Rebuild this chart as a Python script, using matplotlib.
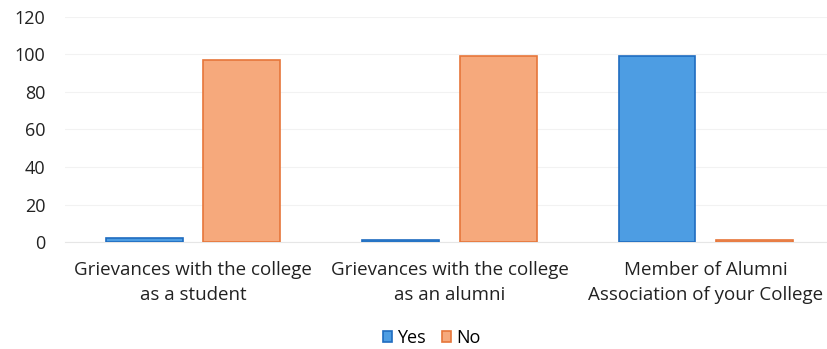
import numpy as np
import matplotlib.pyplot as plt

categories = ["Grievances with the college\nas a student",
              "Grievances with the college\nas an alumni",
              "Member of Alumni\nAssociation of your College"]
yes_vals = [2, 1, 99]
no_vals = [97, 99, 1]
y_ticks = [0, 20, 40, 60, 80, 100, 120]

plt.rcParams['font.family'] = ['Open Sans', 'DejaVu Sans']

fig = plt.figure(figsize=(8.28, 3.49), dpi=100)
ax = fig.add_axes([65 / 828, 107 / 349, (828 - 65) / 828, 225 / 349])

x = np.arange(len(categories))
w = 0.30
off = 0.19
ax.bar(x - off, yes_vals, w, color='#4d9de3', edgecolor='#1f6cc0', linewidth=1.2, label='Yes', zorder=3)
ax.bar(x + off, no_vals, w, color='#f6a97c', edgecolor='#e6763a', linewidth=1.2, label='No', zorder=3)

ax.set_xlim(-0.5, 2.477)
ax.set_ylim(0, 120)
ax.set_yticks(y_ticks)
ax.set_yticklabels([str(t) for t in y_ticks], fontsize=13, color='#222222')
ax.set_xticks(x)
ax.set_xticklabels(categories, fontsize=13.5, color='#222222', linespacing=1.45)
ax.tick_params(axis='both', length=0)
ax.tick_params(axis='y', pad=14)
ax.tick_params(axis='x', pad=14)
ax.grid(axis='y', color='#f2f2f2', linewidth=0.8, zorder=0)
for s in ['top', 'right', 'left']:
    ax.spines[s].set_visible(False)
ax.spines['bottom'].set_color('#e6e6e6')

fig.legend(loc='center', bbox_to_anchor=(432 / 828, 1 - 338 / 349), ncol=2, frameon=False,
           fontsize=13, handlelength=0.5, handleheight=0.5, handletextpad=0.3, columnspacing=0.9)

fig.savefig('out.png', dpi=100)
